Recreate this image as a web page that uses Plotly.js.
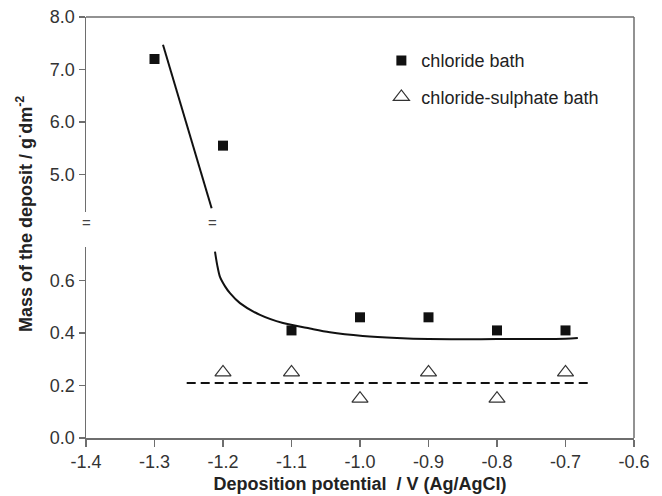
<!DOCTYPE html>
<html><head><meta charset="utf-8">
<script src="https://cdn.plot.ly/plotly-3.0.1.min.js"></script>
<style>html,body{margin:0;padding:0;background:#fff}#chart{width:662px;height:496px}</style>
</head><body><div id="chart"></div>
<script>
// Data
const potentials = [-1.3, -1.2, -1.1, -1.0, -0.9, -0.8, -0.7];
const chlorideMass = [7.2, 5.55, 0.41, 0.46, 0.46, 0.41, 0.41];
const sulphatePotentials = [-1.2, -1.1, -1.0, -0.9, -0.8, -0.7];
const sulphateMass = [0.25, 0.25, 0.15, 0.25, 0.15, 0.25];
// chloride trend line, upper (broken) segment
const trendUpperX = [-1.2876, -1.2166];
const trendUpperY = [7.47, 4.356];
// chloride trend line, lower segment
const trendLowerX = [-1.2117, -1.2085, -1.2044, -1.1970, -1.1898, -1.1752, -1.146, -1.1124, -1.073, -1.044, -0.996, -0.946, -0.90, -0.80, -0.70, -0.682];
const trendLowerY = [0.71, 0.66, 0.614, 0.578, 0.552, 0.514, 0.469, 0.438, 0.417, 0.403, 0.389, 0.381, 0.377, 0.377, 0.378, 0.381];
// chloride-sulphate mean line
const meanX = [-1.253, -0.663];
const meanY = [0.21, 0.21];
const xTicks = [-1.4, -1.3, -1.2, -1.1, -1.0, -0.9, -0.8, -0.7, -0.6];
const xTickLabels = ['-1.4', '-1.3', '-1.2', '-1.1', '-1.0', '-0.9', '-0.8', '-0.7', '-0.6'];
const yLowTicks = [0.0, 0.2, 0.4, 0.6];
const yLowLabels = ['0.0', '0.2', '0.4', '0.6'];
const yHighTicks = [5.0, 6.0, 7.0, 8.0];
const yHighLabels = ['5.0', '6.0', '7.0', '8.0'];

const F = 'Liberation Sans, Arial, sans-serif';
const axisCol = '#6e6e6e';
const tickFont = {family: F, size: 18, color: '#333'};

// split chloride points by axis segment
const chlLowX = [], chlLowY = [], chlHighX = [], chlHighY = [];
potentials.forEach((p, i) => {
  if (chlorideMass[i] > 1) { chlHighX.push(p); chlHighY.push(chlorideMass[i]); }
  else { chlLowX.push(p); chlLowY.push(chlorideMass[i]); }
});

const traces = [
  {x: trendUpperX, y: trendUpperY, yaxis: 'y2', mode: 'lines', line: {color: '#111', width: 2}, showlegend: false, hoverinfo: 'skip'},
  {x: trendLowerX, y: trendLowerY, yaxis: 'y', mode: 'lines', line: {color: '#111', width: 2, shape: 'spline', smoothing: 0.8}, showlegend: false, hoverinfo: 'skip'},
  {x: meanX, y: meanY, yaxis: 'y', mode: 'lines', line: {color: '#111', width: 2, dash: '9px,5px'}, showlegend: false, hoverinfo: 'skip'},
  {x: chlLowX, y: chlLowY, yaxis: 'y', mode: 'markers', name: 'chloride bath', legendgroup: 'a',
   marker: {symbol: 'square', size: 10, color: '#111'}},
  {x: chlHighX, y: chlHighY, yaxis: 'y2', mode: 'markers', name: 'chloride bath', legendgroup: 'a', showlegend: false,
   marker: {symbol: 'square', size: 10, color: '#111'}},
  {x: sulphatePotentials, y: sulphateMass, yaxis: 'y', mode: 'markers', name: 'chloride-sulphate bath', legendgroup: 'b',
   marker: {symbol: 'triangle-up-open', size: 14, color: '#333', line: {width: 1.2}}}
];

const layout = {
  width: 662, height: 496,
  margin: {l: 86, r: 28, t: 17, b: 58},
  paper_bgcolor: '#fff', plot_bgcolor: '#fff',
  font: {family: F, color: '#222'},
  showlegend: true,
  legend: {x: 0.539, y: 0.940, xanchor: 'left', yanchor: 'top', font: {family: F, size: 18, color: '#222'},
           bgcolor: 'rgba(0,0,0,0)', tracegroupgap: 10},
  xaxis: {range: [-1.4, -0.6], domain: [0, 1], anchor: 'y', tickvals: xTicks, ticktext: xTickLabels,
          ticks: 'outside', ticklen: 7, tickwidth: 1.5, tickcolor: axisCol,
          showline: true, linecolor: axisCol, linewidth: 1.5, showgrid: false, zeroline: false,
          tickfont: tickFont,
          title: {text: '<b>Deposition potential  / V (Ag/AgCl)</b>', font: {family: F, size: 18, color: '#222'}, standoff: 6}},
  yaxis: {range: [0, 0.728], domain: [0, 0.4537], tickvals: yLowTicks, ticktext: yLowLabels,
          ticks: 'outside', ticklen: 6, tickwidth: 1.5, tickcolor: axisCol,
          showline: true, linecolor: axisCol, linewidth: 1.5, showgrid: false, zeroline: false, tickfont: tickFont},
  yaxis2: {range: [4.286, 8.0], domain: [0.5368, 1], anchor: 'x', tickvals: yHighTicks, ticktext: yHighLabels,
          ticks: 'outside', ticklen: 6, tickwidth: 1.5, tickcolor: axisCol,
          showline: true, linecolor: axisCol, linewidth: 1.5, showgrid: false, zeroline: false, tickfont: tickFont},
  shapes: [
    {type: 'line', xref: 'paper', yref: 'paper', x0: 0, x1: 1, y0: 1, y1: 1, line: {color: axisCol, width: 1.5}},
    {type: 'line', xref: 'paper', yref: 'paper', x0: 1, x1: 1, y0: 0, y1: 1, line: {color: axisCol, width: 1.5}}
  ],
  annotations: [
    {xref: 'x', yref: 'paper', x: -1.4, y: 0.5107, text: '=', showarrow: false, font: {family: F, size: 15, color: '#444'}},
    {xref: 'x', yref: 'paper', x: -1.215, y: 0.5107, text: '=', showarrow: false, font: {family: F, size: 15, color: '#444'}},
    {xref: 'paper', yref: 'paper', x: -0.112, y: 0.531, xanchor: 'center', yanchor: 'middle', textangle: -90, showarrow: false,
     text: '<b>Mass of the deposit / g<sup>·</sup>dm<sup>-2</sup></b>', font: {family: F, size: 18, color: '#222'}}
  ]
};

Plotly.newPlot('chart', traces, layout, {displayModeBar: false, staticPlot: true});
</script></body></html>
